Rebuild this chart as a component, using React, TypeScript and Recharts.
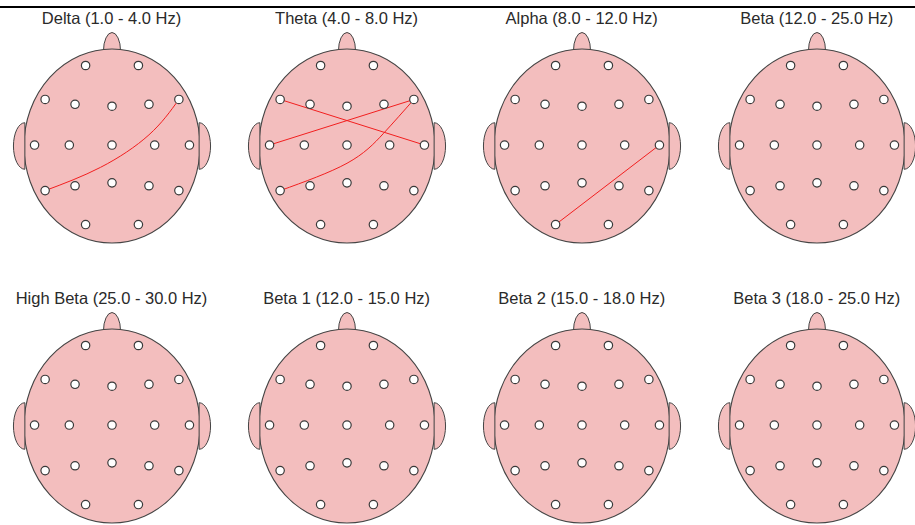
import { ScatterChart, Scatter, XAxis, YAxis, ReferenceArea } from "recharts";

// 10-20 electrode layout, in head-radius units (x right, y towards nose)
const electrodeNames = ["Fp1", "Fp2", "F7", "F3", "Fz", "F4", "F8", "T3", "C3", "Cz", "C4", "T4", "T5", "P3", "Pz", "P4", "T6", "O1", "O2"];
const electrodeX = [-0.3, 0.3, -0.76, -0.42, 0, 0.42, 0.76, -0.88, -0.485, 0, 0.485, 0.88, -0.76, -0.42, 0, 0.42, 0.76, -0.3, 0.3];
const electrodeY = [0.83, 0.83, 0.48, 0.43, 0.41, 0.43, 0.48, 0.01, 0.01, 0.01, 0.01, 0.01, -0.46, -0.41, -0.38, -0.41, -0.46, -0.81, -0.81];

const bandTitles = [
    "Delta (1.0 - 4.0 Hz)",
    "Theta (4.0 - 8.0 Hz)",
    "Alpha (8.0 - 12.0 Hz)",
    "Beta (12.0 - 25.0 Hz)",
    "High Beta (25.0 - 30.0 Hz)",
    "Beta 1 (12.0 - 15.0 Hz)",
    "Beta 2 (15.0 - 18.0 Hz)",
    "Beta 3 (18.0 - 25.0 Hz)",
];

type Link = { from: string; to: string; via: number[][] };

// connections per band; "via" = points
const deltaLinks: Link[] = [
    { from: "T5", to: "F8", via: [[-0.13, -0.22], [0.42, 0.115]] },
];
const thetaLinks: Link[] = [
    { from: "F7", to: "T4", via: [] },
    { from: "T3", to: "F8", via: [] },
    { from: "T5", to: "F8", via: [[0, -0.178], [0.416, 0.131]] },
];
const alphaLinks: Link[] = [{ from: "O1", to: "T4", via: [] }];
const bandLinks: Link[][] = [deltaLinks, thetaLinks, alphaLinks, [], [], [], [], []];

const electrodes = electrodeNames.map((name, i) => ({ name, x: electrodeX[i], y: electrodeY[i] }));

const W = 236;
const H = 250;
const RX = 88;
const RY = 97;

function linkPoints(link: Link) {
    const a = electrodes.find((e) => e.name === link.from)!;
    const b = electrodes.find((e) => e.name === link.to)!;
    return [{ x: a.x, y: a.y }, ...link.via.map(([x, y]) => ({ x, y })), { x: b.x, y: b.y }];
}

const HeadShape = (props: any) => {
    const { x, y, width, height } = props;
    const cx = x + width / 2;
    const cy = y + height / 2;
    const rx = width / 2;
    const ry = height / 2;
    const stroke = "#444";
    const fill = "#f3bebe";
    const nw = 0.097 * rx;
    const nb = cy - 0.98 * ry;
    const ex = 0.99 * rx;
    const eh = 0.24 * ry;
    const ew = 0.13 * rx;
    return (
        <g>
            <path d={`M${cx - nw},${nb} A${nw},${0.19 * ry} 0 0 1 ${cx + nw},${nb} Z`} fill={fill} stroke={stroke} strokeWidth={1} />
            <ellipse cx={cx} cy={cy} rx={rx} ry={ry} fill={fill} stroke={stroke} strokeWidth={1.1} />
            <path d={`M${cx + ex},${cy - eh} A${ew},${eh} 0 0 1 ${cx + ex},${cy + eh} Z`} fill={fill} stroke={stroke} strokeWidth={1} />
            <path d={`M${cx - ex},${cy + eh} A${ew},${eh} 0 0 1 ${cx - ex},${cy - eh} Z`} fill={fill} stroke={stroke} strokeWidth={1} />
        </g>
    );
};

const ElectrodeDot = (props: any) => (
    <circle cx={props.cx} cy={props.cy} r={4.2} fill="#fff" stroke="#3a3a3a" strokeWidth={1.2} />
);

const NoDot = () => <g />;

function HeadMap({ title, links, cx, cy }: { title: string; links: Link[]; cx: number; cy: number }) {
    return (
        <>
            <div
                style={{
                    position: "absolute",
                    left: cx - W / 2 - 20,
                    top: cy - 137,
                    width: W + 40,
                    textAlign: "center",
                    fontFamily: '"Liberation Sans", Arial, sans-serif',
                    fontSize: 16.5,
                    lineHeight: "19px",
                    color: "#2a2a2a",
                    whiteSpace: "nowrap",
                }}
            >
                {title}
            </div>
            <div style={{ position: "absolute", left: cx - W / 2, top: cy - H / 2 }}>
                <ScatterChart width={W} height={H} margin={{ top: 0, right: 0, bottom: 0, left: 0 }}>
                    <XAxis type="number" dataKey="x" domain={[-W / 2 / RX, W / 2 / RX]} allowDataOverflow hide />
                    <YAxis type="number" dataKey="y" domain={[-H / 2 / RY, H / 2 / RY]} allowDataOverflow hide />
                    <ReferenceArea x1={-1} x2={1} y1={-1} y2={1} shape={HeadShape} />
                    {links.map((l, i) => (
                        <Scatter
                            key={i}
                            data={linkPoints(l)}
                            line={{ stroke: "#f21f1f", strokeWidth: 1 }}
                            lineType="joint"
                            lineJointType="natural"
                            fill="#f21f1f"
                            shape={NoDot}
                            isAnimationActive={false}
                        />
                    ))}
                    <Scatter data={electrodes} shape={ElectrodeDot} isAnimationActive={false} />
                </ScatterChart>
            </div>
        </>
    );
}

export default function App() {
    return (
        <div style={{ position: "absolute", left: 0, top: 0, width: 915, height: 525, overflow: "hidden", background: "#fff" }}>
            <div style={{ position: "absolute", left: 0, top: 6, width: 915, height: 2, background: "#000" }} />
            {bandTitles.map((t, i) => (
                <HeadMap
                    key={t}
                    title={t}
                    links={bandLinks[i]}
                    cx={111.5 + 235.1 * (i % 4)}
                    cy={146 + 280 * Math.floor(i / 4)}
                />
            ))}
        </div>
    );
}
